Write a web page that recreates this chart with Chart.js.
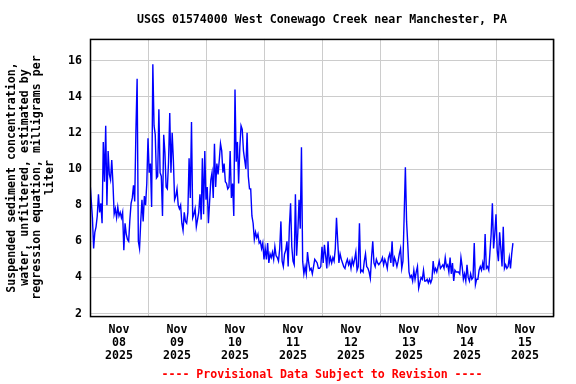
<!DOCTYPE html>
<html>
<head>
<meta charset="utf-8">
<script src="https://cdn.jsdelivr.net/npm/chart.js@4.4.1/dist/chart.umd.min.js"></script>
<style>
  html, body { margin: 0; padding: 0; background: #fff; }
  #grafico { display: block; }
</style>
</head>
<body>
<canvas id="grafico" width="576" height="384"></canvas>
<script>
// Leituras a cada 30 minutos, um array por dia (hora 0 = 08/11/2025 00:00)
const nov08 = [9.3, 8.3, 7.3, 5.6, 6.5, 6.8, 7.4, 8.6, 7.6, 8.1, 7.0, 11.5, 9.3, 12.4, 8.0, 11.0, 9.7, 9.4, 10.5, 9.2, 7.5, 7.8, 7.3, 7.9,
  7.4, 7.6, 7.3, 7.6, 5.5, 7.0, 6.4, 6.1, 6.0, 7.2, 8.1, 8.4, 9.1, 8.2, 12.1, 15.0, 6.0, 5.6, 7.1, 8.3, 7.1, 8.5, 8.0, 9.2];
const nov09 = [11.7, 9.8, 10.3, 7.9, 15.8, 12.4, 11.9, 9.5, 9.6, 13.3, 9.8, 9.6, 7.4, 11.9, 10.9, 9.0, 8.9, 10.4, 13.1, 9.8, 12.0, 10.5, 8.3, 8.5,
  8.9, 8.0, 7.8, 8.0, 7.0, 6.6, 7.6, 7.1, 7.0, 7.6, 10.6, 8.4, 12.6, 7.3, 7.5, 7.8, 6.8, 7.2, 7.6, 8.6, 7.2, 10.6, 7.5, 11.0];
const nov10 = [8.3, 9.0, 7.0, 8.2, 9.4, 9.8, 8.4, 11.4, 9.0, 10.3, 9.7, 10.5, 11.4, 11.0, 9.8, 10.3, 9.3, 9.2, 8.9, 9.0, 11.0, 8.4, 9.2, 7.4,
  14.4, 10.4, 11.5, 9.2, 11.2, 12.4, 12.2, 11.0, 10.5, 10.0, 12.0, 9.6, 8.9, 8.9, 7.4, 7.0, 6.1, 6.5, 6.2, 6.4, 5.9, 6.0, 5.6, 5.9];
const nov11 = [5.0, 5.6, 5.0, 5.9, 4.8, 5.3, 5.1, 5.4, 5.0, 5.7, 5.2, 5.1, 4.9, 5.6, 7.1, 4.9, 4.6, 5.3, 5.5, 6.0, 4.6, 6.8, 8.1, 5.7,
  4.9, 4.7, 8.6, 5.2, 6.5, 8.3, 6.7, 11.2, 4.9, 4.2, 4.6, 4.2, 5.4, 4.8, 4.4, 4.5, 4.2, 4.6, 5.0, 4.9, 4.8, 4.5, 4.5, 4.6];
const nov12 = [5.7, 4.8, 5.8, 5.2, 4.5, 6.0, 4.8, 5.1, 4.8, 5.1, 4.9, 5.6, 7.3, 6.0, 4.8, 5.3, 5.0, 4.8, 4.6, 4.5, 4.8, 5.0, 4.7, 4.9,
  4.5, 5.0, 4.7, 5.0, 5.4, 4.4, 4.6, 7.0, 4.3, 4.4, 4.3, 4.9, 5.3, 4.6, 4.5, 4.3, 3.95, 5.1, 6.0, 4.8, 4.6, 5.0, 4.8, 4.7];
const nov13 = [4.8, 4.9, 5.1, 4.7, 5.0, 4.8, 4.5, 5.1, 5.3, 4.8, 6.0, 4.6, 5.1, 4.9, 4.6, 4.9, 5.3, 5.6, 4.5, 4.9, 7.4, 10.1, 7.1, 5.8,
  4.3, 4.0, 4.1, 3.8, 4.4, 3.9, 4.3, 4.6, 3.4, 3.7, 4.0, 3.9, 4.4, 3.8, 3.8, 3.9, 3.7, 3.9, 3.7, 3.9, 4.9, 4.3, 4.5, 4.3];
const nov14 = [4.6, 4.9, 4.5, 4.6, 4.7, 4.5, 5.1, 4.6, 4.7, 4.3, 5.1, 4.2, 4.8, 3.8, 4.4, 4.3, 4.3, 4.3, 4.2, 5.1, 4.6, 3.9, 4.2, 3.8,
  4.7, 4.0, 3.8, 4.2, 3.9, 4.0, 5.9, 3.6, 3.9, 3.9, 4.4, 4.6, 4.4, 4.8, 4.4, 6.4, 4.5, 4.6, 4.4, 5.4, 6.4, 8.1, 5.6, 6.4];
const nov15 = [7.5, 5.5, 4.9, 6.5, 5.6, 4.6, 6.8, 4.5, 4.7, 4.5, 4.6, 5.1, 4.5, 5.3, 5.9];

const dias = [nov08, nov09, nov10, nov11, nov12, nov13, nov14, nov15];
const intervaloHoras = 0.5;

// Rótulos do eixo x (um por dia, centrados ao meio-dia)
const rotulosX = [
  ["Nov", "08", "2025"], ["Nov", "09", "2025"], ["Nov", "10", "2025"], ["Nov", "11", "2025"],
  ["Nov", "12", "2025"], ["Nov", "13", "2025"], ["Nov", "14", "2025"], ["Nov", "15", "2025"]
];

const titulo = "USGS 01574000 West Conewago Creek near Manchester, PA";
const tituloY = [
  "Suspended sediment concentration,",
  "water, unfiltered, estimated by",
  "regression equation, milligrams per",
  "liter"
];
const aviso = "---- Provisional Data Subject to Revision ----";

// monta pontos {x: horas, y: valor}
const pontos = [];
dias.forEach((valores, d) => {
  valores.forEach((v, i) => pontos.push({ x: d * 24 + i * intervaloHoras, y: v }));
});

const fonte = { family: "'DejaVu Sans Mono', monospace", size: 11.6, weight: "bold", lineHeight: 1.2 };

// moldura preta em volta da área do gráfico
const moldura = {
  id: "moldura",
  afterDraw(chart) {
    const { ctx, chartArea: a } = chart;
    ctx.save();
    ctx.strokeStyle = "#000";
    ctx.lineWidth = 1.5;
    ctx.strokeRect(a.left + 0.5, a.top + 0.5, a.right - a.left - 1, a.bottom - a.top);
    ctx.restore();
  }
};

new Chart(document.getElementById("grafico"), {
  type: "line",
  data: {
    datasets: [{
      data: pontos,
      borderColor: "#0000ff",
      borderWidth: 1.4,
      pointRadius: 0,
      tension: 0
    }]
  },
  options: {
    responsive: false,
    animation: false,
    devicePixelRatio: 1,
    layout: { padding: { left: 0, right: 22, top: 0, bottom: 0 } },
    plugins: {
      legend: { display: false },
      tooltip: { enabled: false },
      title: {
        display: true,
        text: titulo,
        color: "#000",
        font: fonte,
        fullSize: false,
        padding: { top: 13, bottom: 12 }
      },
      subtitle: {
        display: true,
        position: "bottom",
        text: aviso,
        color: "#ff0000",
        font: fonte,
        fullSize: false,
        padding: { top: 0, bottom: 2 }
      }
    },
    scales: {
      x: {
        type: "linear",
        min: 0,
        max: 192,
        grid: { color: "#cccccc", lineWidth: 1, drawTicks: false },
        border: { display: false },
        ticks: {
          stepSize: 24,
          autoSkip: false,
          maxRotation: 0,
          minRotation: 0,
          labelOffset: 29,
          padding: 7.5,
          color: "#000",
          font: { ...fonte, lineHeight: 1.12 },
          callback: (v, i) => rotulosX[i] || ""
        },
        afterFit: s => { s.height = 52; }
      },
      y: {
        min: 1.86,
        max: 17.2,
        grid: { color: "#cccccc", lineWidth: 1, drawTicks: false },
        border: { display: false },
        ticks: {
          stepSize: 2,
          includeBounds: false,
          padding: 8,
          color: "#000",
          font: fonte
        },
        title: {
          display: true,
          text: tituloY,
          color: "#000",
          font: { ...fonte, lineHeight: 1.12 },
          padding: { top: 5, bottom: 0 }
        },
        afterFit: s => { s.width = 90; }
      }
    }
  },
  plugins: [moldura]
});
</script>
</body>
</html>
